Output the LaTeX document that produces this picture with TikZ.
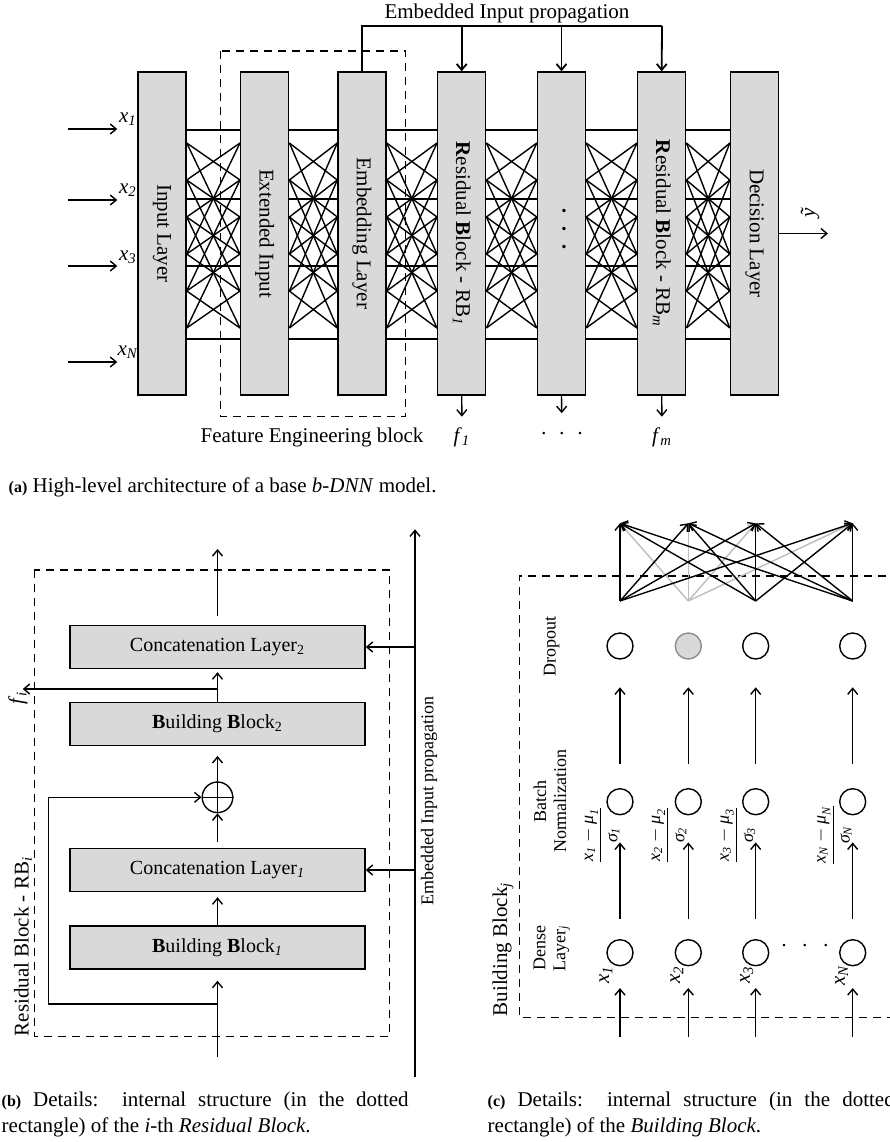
\documentclass[tikz,border=0pt]{standalone}
\usepackage{fontspec}
\setmainfont{Liberation Serif}
\usepackage{amsmath}
\usetikzlibrary{arrows.meta,calc}
\definecolor{barfill}{HTML}{D9D9D9}
\definecolor{lgray}{HTML}{BDBDBD}
\definecolor{dgray}{HTML}{8C8C8C}
\begin{document}
\begin{tikzpicture}[x=0.5pt,y=-0.5pt,line width=0.7pt,
  >={Straight Barb[length=3pt,width=5pt]},
  bar/.style={draw,fill=barfill,minimum width=161.5pt,minimum height=24pt,rotate=-90,inner sep=0pt,font=\fontsize{10.5}{12}\selectfont},
  blk/.style={draw,fill=barfill,minimum width=147.5pt,minimum height=21.5pt,inner sep=0pt,font=\fontsize{10}{12}\selectfont},
  neuron/.style={circle,draw,minimum size=13pt,inner sep=0pt},
  lbl/.style={font=\fontsize{10.5}{12}\selectfont,inner sep=0pt},
  small/.style={font=\fontsize{9}{10}\selectfont,inner sep=0pt},
  prop/.style={line width=0.9pt},
  dbox/.style={dash pattern=on 4pt off 3pt},
  captxt/.style={anchor=north west,inner sep=0pt,align=left,font=\fontsize{10.5}{13.3}\selectfont}]
\useasboundingbox (0,0) rectangle (890,1142);

% ================= (a) =================
\node[lbl] (title) at (507,13) {Embedded Input propagation};

\foreach \hy in {130,199,266,339}{
  \draw ($(162,\hy)+(24,0)$) -- ($(754.5,\hy)-(24,0)$);
}
\node[bar] (inp) at (162,233.5) {Input Layer};
\node[bar] (ext) at (264.7,233.5) {Extended Input};
\node[bar] (emb) at (362,233.5) {Embedding Layer};
\node[bar] (rb1) at (461.7,233.5) {\textbf{R}esidual \textbf{B}lock - RB\textsubscript{\textit{1}}};
\node[bar] (dts) at (561.5,233.5) {};
\node[bar] (rbm) at (661.7,233.5) {\textbf{R}esidual \textbf{B}lock - RB\textsubscript{\textit{m}}};
\node[bar] (dec) at (754.5,233.5) {Decision Layer};
\node[lbl,rotate=-90] (vd) at (561.5,229) {\textbf{·}\hspace{5.4pt}\textbf{·}\hspace{5.4pt}\textbf{·}};

\foreach \a/\b in {inp/ext,ext/emb,emb/rb1,rb1/dts,dts/rbm,rbm/dec}{
  \foreach \i/\j in {0/1,1/0,1/2,2/1,2/3,3/2,3/4,4/3,4/5,5/4,0/3,3/0,1/4,4/1,2/5,5/2}{
    \draw ($(\a.north)+(0,{143+37*\i-233.5})$) -- ($(\b.south)+(0,{143+37*\j-233.5})$);
  }
}

% feature engineering block
\draw[dbox] (220.7,51) rectangle (405.7,416.7);
\node[lbl] (feb) at (312,437) {Feature Engineering block};

% inputs
\foreach \k/\yy/\ly/\t in {1/129/119/\textit{1},2/200/190/\textit{2},3/266/257/\textit{3},4/362/352/\textit{N}}{
  \coordinate (in\k) at (68,\yy);
  \draw[->,shorten >=10pt] (in\k) -- (inp.south |- in\k);
  \node[lbl] (xl\k) at (128,\ly) {\textit{x}\textsubscript{\t}};
}

% embedded input propagation
\coordinate (ptl) at (362,26);
\coordinate (ptr) at (662,26);
\draw[prop] (emb.west) -- (ptl) -- (ptr);
\draw[prop,->] (ptr) -- (rbm.west);
\draw[prop,->] (rb1.west |- ptl) -- (rb1.west);
\draw[prop,->] (dts.west |- ptl) -- (dts.west);

% outputs
\node[lbl] (f1) at (462,437) {\textit{f}\textsubscript{\textit{1}}};
\node[lbl] (fd) at (562,436) {·\hspace{5.6pt}·\hspace{5.6pt}·};
\node[lbl] (fm) at (662,437) {\textit{f}\textsubscript{\textit{m}}};
\draw[->,shorten >=5pt] (rb1.east) -- (f1.north);
\draw[->,shorten >=9pt] (dts.east) -- (fd.north);
\draw[->,shorten >=5pt] (rbm.east) -- (fm.north);

\coordinate (yend) at (828,233.5);
\draw[->] (dec.north) -- (yend);
\node[lbl,rotate=90] (yt) at (810,213) {\textit{ỹ}};

\node[captxt,anchor=base west] (capa) at (8,492) {{\fontsize{8}{10}\selectfont\textbf{(a)}} High-level architecture of a base \textit{b-DNN} model.};

% ================= (b) =================
\draw[dbox] (34.3,570) rectangle (389.3,1036.7);
\node[blk] (cl2) at (217.5,647) {Concatenation Layer\textsubscript{2}};
\node[blk] (bb2) at (217.5,723.7) {\textbf{B}uilding \textbf{B}lock\textsubscript{2}};
\node[circle,draw,minimum size=15.3pt,inner sep=0pt] (op) at (217.5,797.3) {};
\draw (op.north) -- (op.south);
\draw (op.west) -- (op.east);
\node[blk] (cl1) at (217.5,870) {Concatenation Layer\textsubscript{\textit{1}}};
\node[blk] (bb1) at (217.5,947.5) {\textbf{B}uilding \textbf{B}lock\textsubscript{\textit{1}}};

\coordinate (bin) at (217.5,1056.7);
\coordinate (bjoin) at (217.5,1004);
\coordinate (sk) at (48.3,1004);
\draw[->,shorten >=5.5pt] (bin) -- (bb1.south);
\draw[->] (bjoin) -- (sk) |- (op.west);
\draw[->,shorten >=2.5pt] (bb1.north) -- (cl1.south);
\draw[->,shorten <=3pt] (cl1.north) -- (op.south);
\draw[->,shorten >=5pt] (op.north) -- (bb2.south);
\draw[->,shorten >=1.5pt] (bb2.north) -- (cl2.south);
\coordinate (fj) at (217.5,689);
\coordinate (fe) at (22.7,689);
\draw[->] (fj) -- (fe);
\node[lbl,rotate=90] (fi) at (18,698) {\textit{f}\textsubscript{\textit{i}}};
\coordinate (outp) at (217.5,549);
\draw[->,shorten <=4.5pt] (cl2.north) -- (outp);

\coordinate (eb) at (415,1076.7);
\coordinate (et) at (415,529.3);
\draw[->] (eb) -- (et);
\draw[->] (cl2.east -| eb) -- (cl2.east);
\draw[->] (cl1.east -| eb) -- (cl1.east);
\node[small,rotate=90] (eip) at (429,801) {Embedded Input propagation};
\node[lbl,rotate=90,anchor=west] (rbl) at (23,1037) {Residual Block - RB\textsubscript{\textit{i}}};

\node[captxt] (capb) at (1,1091) {\makebox[203.5pt][s]{{\fontsize{8}{10}\selectfont\textbf{(b)}} Details:\ \ internal structure (in the dotted}\\rectangle) of the \textit{i}-th \textit{Residual Block}.};

% ================= (c) =================
\draw[dbox] (900,576) -| (519.3,1017.3) -- (900,1017.3);

\foreach \k/\cx in {1/620,2/688.3,3/755.7,4/852.7}{
  \coordinate (fb\k) at (\cx,601);
  \coordinate (ft\k) at (\cx,523.3);
  \coordinate (i\k) at (\cx,1037);
}
\foreach \j in {1,2,3,4}{
  \draw[->,lgray] (fb2) -- (ft\j);
}
\foreach \i in {1,3,4}{
  \foreach \j in {1,2,3,4}{
    \draw[->] (fb\i) -- (ft\j);
  }
}

\node[neuron] (d1) at (620,646) {};
\node[neuron,fill=barfill,draw=dgray] (d2) at (688.3,646) {};
\node[neuron] (d3) at (755.7,646) {};
\node[neuron] (d4) at (852.7,646) {};
\node[neuron] (n1) at (620,801.7) {};
\node[neuron] (n2) at (688.3,801.7) {};
\node[neuron] (n3) at (755.7,801.7) {};
\node[neuron] (n4) at (852.7,801.7) {};
\node[neuron] (e1) at (620,952.7) {};
\node[neuron] (e2) at (688.3,952.7) {};
\node[neuron] (e3) at (755.7,952.7) {};
\node[neuron] (e4) at (852.7,952.7) {};

\foreach \k in {1,2,3,4}{
  \draw[->,shorten >=10.8pt] (i\k) -- (e\k);
  \draw[->,shorten <=10pt,shorten >=13.5pt] (e\k) -- (n\k);
  \draw[->,shorten <=11.8pt,shorten >=13.8pt] (n\k) -- (d\k);
}
\node[lbl] (edots) at (805,948) {·\hspace{7pt}·\hspace{7pt}·};

\node[small,rotate=90] (ldrop) at (551.7,646.7) {Dropout};
\node[small,rotate=90,align=center] (lbn) at (550,801) {Batch\\Normalization};
\node[small,rotate=90,align=center] (lden) at (551.7,948) {Dense\\Layer\textsubscript{\textit{j}}};
\node[lbl,rotate=90,anchor=west] (lbb) at (503,1017) {Building Block\textsubscript{\textit{j}}};

\node[small,rotate=90] (fr1) at (601,835) {$\dfrac{\textit{x}_{\textit{1}}-\textit{μ}_{\textit{1}}}{\textit{σ}_{\textit{1}}}$};
\node[small,rotate=90] (fr2) at (668,835) {$\dfrac{\textit{x}_{\textit{2}}-\textit{μ}_{\textit{2}}}{\textit{σ}_{\textit{2}}}$};
\node[small,rotate=90] (fr3) at (736.7,835) {$\dfrac{\textit{x}_{\textit{3}}-\textit{μ}_{\textit{3}}}{\textit{σ}_{\textit{3}}}$};
\node[small,rotate=90] (fr4) at (833.3,835) {$\dfrac{\textit{x}_{\textit{N}}-\textit{μ}_{\textit{N}}}{\textit{σ}_{\textit{N}}}$};

\node[lbl,rotate=90] (xe1) at (606,975) {\textit{x}\textsubscript{\textit{1}}};
\node[lbl,rotate=90] (xe2) at (677,975) {\textit{x}\textsubscript{\textit{2}}};
\node[lbl,rotate=90] (xe3) at (746.7,975) {\textit{x}\textsubscript{\textit{3}}};
\node[lbl,rotate=90] (xe4) at (841.7,975) {\textit{x}\textsubscript{\textit{N}}};

\node[captxt] (capc) at (487,1091) {\makebox[203.5pt][s]{{\fontsize{8}{10}\selectfont\textbf{(c)}} Details:\ \ internal structure (in the dotted}\\rectangle) of the \textit{Building Block}.};
\end{tikzpicture}
\end{document}
